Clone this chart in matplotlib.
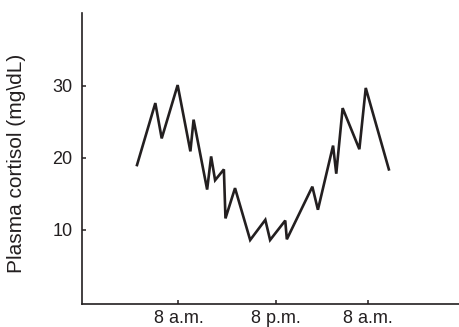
import matplotlib
matplotlib.use("Agg")
import matplotlib.pyplot as plt

hours = [2.8, 5.1, 5.9, 7.9, 9.5, 9.9, 11.6, 12.1, 12.6, 13.7, 13.9, 15.1, 17.0,
         18.9, 19.5, 21.4, 21.6, 24.8, 25.5, 27.4, 27.8, 28.6, 30.7, 31.5, 34.4]
cortisol = [19.0, 27.6, 22.7, 30.1, 20.9, 25.3, 15.6, 20.2, 16.9, 18.4, 11.6, 15.8, 8.6,
            11.4, 8.6, 11.3, 8.7, 16.0, 12.8, 21.7, 17.8, 26.9, 21.2, 29.7, 18.4]
xtick_pos = [8, 20.2, 31.8]
xtick_labels = ["8 a.m.", "8 p.m.", "8 a.m."]
ytick_pos = [10, 20, 30]

plt.rcParams['font.family'] = ['Liberation Sans', 'DejaVu Sans']

fig = plt.figure(figsize=(4.59, 3.27), dpi=100)
ax = fig.add_axes([82/459, 1 - 304/327, 1 - 82/459, (304 - 13)/327])
ax.plot(hours, cortisol, color='#231f20', lw=1.9, solid_joinstyle='miter')
ax.set_xlim(-4.1, 43.2)
ax.set_ylim(-0.28, 40.1)
ax.set_xticks(xtick_pos)
ax.set_xticklabels(xtick_labels)
ax.set_yticks(ytick_pos)
ax.tick_params(direction='in', length=3, width=1.1, labelsize=13, colors='#231f20')
ax.tick_params(axis='y', pad=7)
ax.tick_params(axis='x', pad=4)
for s in ['top', 'right']:
    ax.spines[s].set_visible(False)
for s in ['left', 'bottom']:
    ax.spines[s].set_linewidth(1.2)
    ax.spines[s].set_color('#231f20')
ax.set_ylabel("Plasma cortisol (mg\\dL)", fontsize=15, color='#231f20')
ax.yaxis.set_label_coords(-0.148, 0.483)
fig.savefig("out.png", dpi=100)
